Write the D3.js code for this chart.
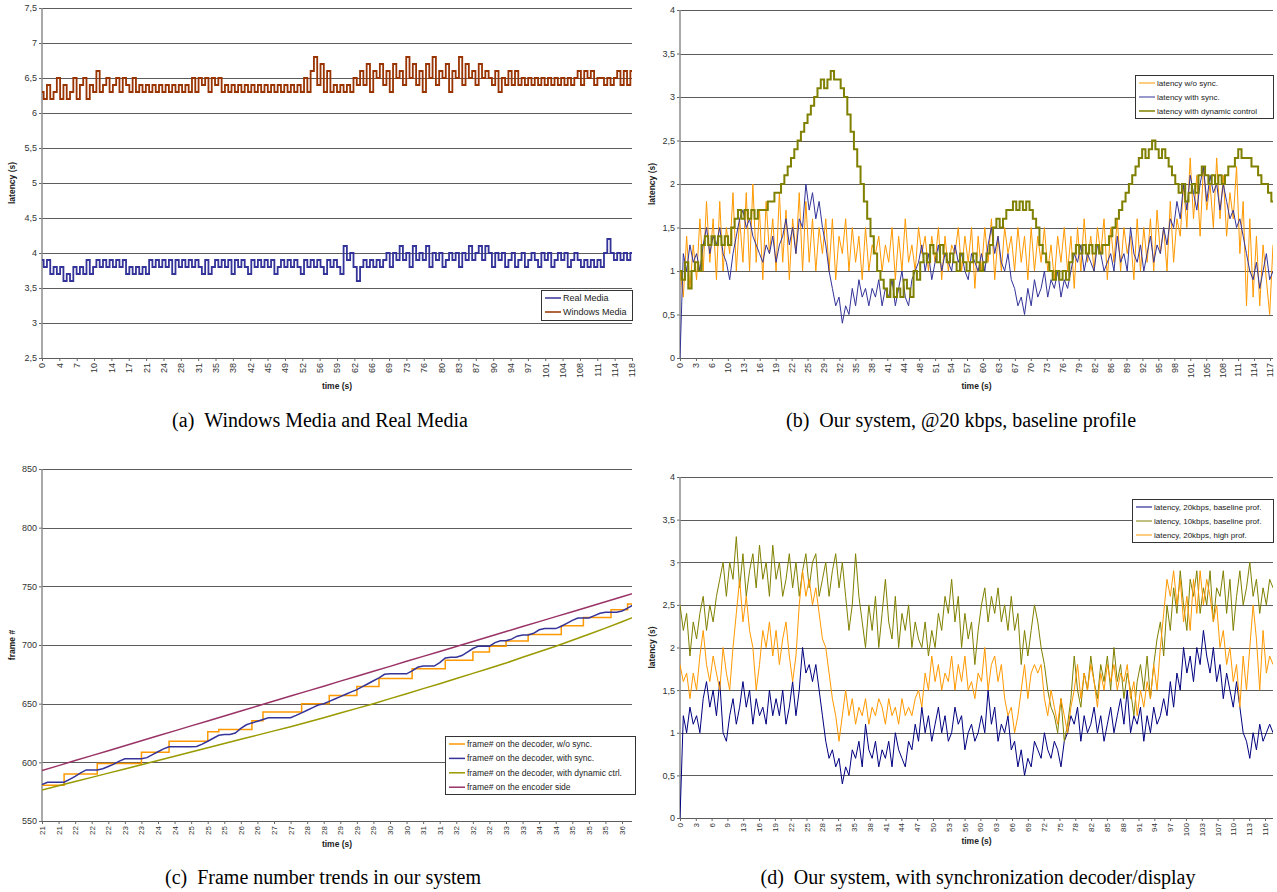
<!DOCTYPE html>
<html>
<head>
<meta charset="utf-8">
<script src="https://cdn.jsdelivr.net/npm/d3@7"></script>
<style>
  body { margin: 0; background: #fff; }
  svg { display: block; background: #fff; }
  .tick text { font-family: "Liberation Sans", Arial, sans-serif; fill: #333; }
  .tick line { stroke: #666; }
</style>
</head>
<body>
<div class="vis"></div>
<script>
// ---------- (a) Windows Media and Real Media ----------
var timeLabelsA = [0,4,7,10,14,17,21,24,28,31,35,38,42,45,49,52,56,59,62,66,69,73,76,80,83,87,90,94,97,101,104,108,111,114,118];
var yTicksA = [2.5,3,3.5,4,4.5,5,5.5,6,6.5,7,7.5];
var realMedia = [3.9,3.8,3.9, 3.7,3.8,3.7,3.8,3.6,3.7,3.6,3.8,3.7,3.8,3.7,3.9,3.7,3.8,
  3.9,3.8,3.9,3.8,3.9,3.8,3.9,3.8,3.9, 3.7,3.8,3.7,3.8,3.7,3.8,3.7,3.9,
  3.8,3.9,3.8,3.9,3.8,3.9,3.7,3.9,3.8,3.9,3.8,3.9,3.8,3.9,3.8, 3.7,3.9,3.7,3.8,3.9,
  3.8,3.9,3.8,3.9,3.7,3.9,3.8,3.9,3.8,3.7,3.9,3.8,3.9,3.8,3.9,3.8,3.9,3.7,3.8,3.9,
  3.8,3.9,3.8,3.9,3.8,3.7,3.9,3.8,3.9,3.8,3.9,3.8,3.7,3.9,3.8,3.9,3.8,3.7,
  4.1,3.9,4.0, 3.8,3.6,3.8,3.9,3.8,3.9,3.8,3.9,3.8,
  3.9,4.0,3.8,4.0,3.9,4.1,3.9,4.0,3.8,4.1,3.9,4.0,3.9,4.1,3.8,4.0,3.9,4.0,3.8,3.9,
  4.0,3.9,4.0,3.8,4.0,3.9,4.1,3.9,4.0,4.1,3.9,4.1,4.0,3.8,4.0,3.9,4.0,
  3.8,3.9,4.0,3.8,3.9,4.0,3.8,3.9,4.0,3.9,3.8,4.0,3.9,4.0,3.8,3.9,4.0,3.9,4.0,3.8,3.9,4.0,3.9,
  3.8,3.9,3.8,3.9,3.8,3.9,3.8,4.0, 4.2,4.0, 3.9,4.0,3.9,4.0,3.9,4.0];
var windowsMedia = [6.3,6.2,6.4,6.2,6.3,6.5,6.2,6.4,6.2,6.3,6.5,6.2,6.4,6.5,6.2,6.4,6.3,
  6.6,6.3,
  6.4,6.5,6.3,6.4,6.5,6.3,6.5,6.4,6.3,6.5,6.3,6.4,6.3,6.4,6.3,
  6.4,6.3,6.4,6.3,6.4,6.3,6.4,6.3,6.4,6.3,6.4,6.3,
  6.5,6.3,6.5,6.4,6.5,6.3,6.5,6.4,6.5,6.3,
  6.4,6.3,6.4,6.3,6.4,6.3,6.4,6.3,6.4,6.3,6.4,6.3,6.4,6.3,6.4,6.3,6.4,6.3,6.4,6.3,6.4,6.3,6.4,6.3,6.5,
  6.3,6.6,6.8,6.4,6.7,6.3,6.6,
  6.3,6.4,6.3,6.4,6.3,6.4,6.3,
  6.5,6.4,6.6,6.4,6.7,6.3,6.6,6.5,6.7,6.4,6.6,6.3,6.7,6.5,6.6,6.4,6.8,6.5,6.7,6.4,
  6.6,6.3,6.7,6.5,6.8,6.4,6.6,6.5,6.7,6.3,6.6,6.5,6.8,6.4,6.7,6.5,6.6,6.4,6.7,6.5,6.6,
  6.5,6.4,6.6,6.3,6.5,6.4,6.6,6.4,6.6,6.4,
  6.5,6.4,6.5,6.4,6.5,6.4,6.5,6.4,6.5,6.4,6.5,6.4,6.5,6.4,6.5,6.4,6.5,
  6.6,6.4,6.6,6.5,6.6,6.4,6.5,
  6.5,6.4,6.5,6.4,6.5,
  6.6,6.4,6.6,6.4,6.6];

// ---------- (b) Our system, @20 kbps, baseline profile ----------
var timeLabelsB = [0,3,6,10,13,16,19,22,25,29,32,35,38,41,44,48,51,54,57,60,63,67,70,73,76,79,82,86,89,92,95,98,101,105,108,111,114,117];
var yTicksB = [0,0.5,1,1.5,2,2.5,3,3.5,4];
var latNoSync = [1.0,0.7,1.4,0.8,1.3,0.9,1.6,
  1.0,1.8,1.1,1.6,0.9,1.8,1.0,1.5,1.2,1.9,1.0,1.6,1.1,1.9,
  1.0,2.0,1.1,1.7,0.9,1.8,1.2,1.6,1.0,1.9,1.1,1.7,0.9,1.6,1.2,1.9,1.0,1.8,1.1,1.6,
  1.0,1.5,1.2,1.6,1.0,1.6,0.9,1.4,1.2,1.6,1.0,1.5,1.1,1.4,0.9,1.5,1.0,1.3,1.2,1.4,
  1.0,1.3,1.1,1.5,0.9,1.4,1.0,1.6,1.1,1.3,1.0,1.5,1.2,1.4,1.0,1.4,1.1,1.5,0.9,1.4,
  1.0,1.3,1.2,1.5,1.0,1.4,1.1,1.5,0.8,1.4,
  1.0,1.5,1.1,1.6,0.9,1.4,1.0,1.5,1.2,1.4,1.0,1.5,1.1,1.4,0.9,1.5,1.0,1.4,1.1,1.5,
  1.0,1.3,0.9,1.4,1.1,1.5,1.0,1.4,0.8,1.5,
  1.0,1.6,1.1,1.4,1.0,1.5,1.2,1.6,0.9,1.5,1.1,1.6,1.0,1.5,1.2,1.4,0.9,1.6,1.0,1.5,
  1.1,1.6,1.0,1.7,1.2,1.5,1.0,1.8,1.1,1.6,
  1.4,2.0,1.5,2.3,1.6,2.1,1.4,2.2,1.7,2.0,1.5,2.3,1.6,2.1,1.4,1.9,1.6,2.2,1.2,1.8,
  0.6,1.6,0.7,1.4,0.6,1.3,0.9,0.5,1.3];
var latSync = [0, 1.2,1.0,1.3,1.1,1.2,1.0,
  1.3,1.5,1.2,1.4,1.3,1.5,1.2,1.1,0.9,1.2,
  1.4,1.6,1.7,1.5,1.6,1.4,1.3, 1.2,1.1,1.3,1.2,1.4,1.1,1.3,
  1.4,1.6,1.3,1.5,1.2,1.6,1.5, 2.0,1.7,1.9,1.6,1.8, 1.5,1.3,
  1.0,0.8,0.6,0.7,0.4, 0.6,0.5,0.8,0.6,0.9,0.7,0.8,0.6,
  0.8,0.7,0.9,0.6,0.8,0.7,0.9,0.6,0.8,1.0,0.7,0.6,0.9,
  1.0,1.1,1.3,1.0,1.2,0.9,1.1,1.3,1.0,1.2,1.1,1.0,1.3,1.1,1.2,1.0,0.9,1.2,1.1,1.0,
  1.2,1.0,1.3,1.5,1.2,1.4,1.1,1.0,1.2,0.9,
  0.8,0.6,0.7,0.5,0.8,0.6,
  0.9,0.7,0.8,1.0,0.7,0.9,0.8,1.0,0.7,0.9,0.8,
  1.0,1.2,1.1,1.3,1.0,1.2,1.1,1.0,1.3,1.2,1.0,1.1,1.2,
  1.0,1.4,1.1,1.2,1.0,1.5,1.2,1.1,1.3,1.0,1.2,1.4,1.1,1.3,1.2,1.5,
  1.3,1.6,1.5,1.8,1.6,2.0,1.7,2.1,1.9,
  1.7,2.0,2.2,1.8,2.1,1.9,2.0,1.7,2.0,1.8,
  1.6,1.7,1.5,1.6,1.4,
  1.2,1.0,0.9,1.1,0.8,1.0,1.2,0.9,1.0];
var latDynamic = [1.0,0.9,1.1,0.8,1.0,1.1,1.0,
  1.3,1.4,1.3,1.4,1.3,1.4,1.3,1.4,1.3,
  1.5,1.6,1.7,1.6,1.7,1.6,1.7,1.6,1.7,1.7,1.7,1.8,1.8,1.9,
  1.9,2.0,2.1,2.2,2.3,2.4,2.5,2.6,2.7,2.8,2.9,3.0,3.1,
  3.2,3.1,3.2,3.3,3.2,3.2,3.1,3.0,
  2.8,2.6,2.4,2.2,2.0,1.8,1.6,1.4,1.2,1.0,
  0.9,0.8,0.7,0.9,0.7,0.8,0.7,0.9,0.8,0.7,
  1.0,0.9,1.1,1.2,1.1,1.3,1.2,1.1,1.3,1.2,1.1,1.2,1.1,1.0,1.2,1.1,1.0,1.1,1.2,1.1,1.0,1.1,1.2,
  1.3,1.5,1.6,1.5,1.6,1.7,1.7,1.8,1.7,1.8,1.7,1.8,1.7,
  1.6,1.5,1.3,1.2,1.1,1.0,0.9,1.0,0.9,1.0,0.9,
  1.1,1.2,1.3,1.2,1.3,1.2,1.3,1.2,1.3,1.2,1.3,
  1.3,1.4,1.5,1.6,1.7,1.8,1.9,2.0,2.1,2.2,2.3,2.4,2.3,2.4,2.5,2.4,2.3,2.4,2.3,2.2,2.1,2.0,
  1.9,2.0,1.8,1.9,2.0,1.9,2.1,2.2,2.1,2.0,2.1,2.0,2.1,2.0,2.1,2.2,2.2,2.3,2.4,2.3,
  2.3,2.3,2.2,2.2,2.1,2.0,2.0,1.9,1.8];

// ---------- (c) Frame number trends ----------
var timeLabelsC = [21,21,22,22,22,23,23,24,24,25,25,25,26,26,27,27,28,28,29,29,29,30,30,31,31,32,32,32,33,33,34,34,35,35,35,36];
var yTicksC = [550,600,650,700,750,800,850];
// sampled every third of a label interval
var frameNoSync = [580.5,580.5,580.5,580.5, 590,590,590,590,590,590,
  599,599,599,599,599,599,599,599, 608.5,608.5,608.5,608.5,608.5,
  618,618,618,618,618,618,618, 626,626, 628,628,628,628,628,628,
  635.5,635.5, 643,643,643,643,643,643,643, 650,650,650,650,650,
  657,657,657,657,657, 664.7,664.7,664.7,664.7,
  671.4,671.4,671.4,671.4,671.4,671.4, 679.7,679.7,679.7,679.7,679.7,679.7,
  687,687,687,687,687, 694,694,694, 699,699,699, 703.4,703.4,703.4,703.4,
  709,709,709,709,709,709, 716.5,716.5,716.5,716.5,
  723.5,723.5,723.5,723.5,723.5, 730,730,730, 735,735];
var frameSync = [581,583,583,583,583,585.5,588,591,593.5,593.5,
  593.5,594.5,596.5,598.5,601,603,603,603,603,604,
  606.5,609,611.5,613.3,613.3,613.3,613.3,613.3,613.5,615.5,
  618,620.5,623,623.7,623.7,625,629,632,633.6,635,
  636.5,637.9,637.9,637.9,637.9,638,640,642.2,644.4,646.6,
  648.8,650,652,654,656,658,660,662,664.5,667,
  669.5,672,675,675.4,675.4,675.4,675.4,678,681,682,
  682,682,685,689,689.5,689.5,691,694,697,699,
  699,699,702,703.6,703.6,705,707.5,708.5,708.5,710,
  713,714,714,714,716,718.5,721,723,723,723,
  725,727,728,728,728,729,731.5,734];
// sampled once per label interval
var frameDynamic = [576.5,580,583.6,587.2,590.8,594.4,598,601.6,605.2,608.8,612.4,616,619.6,623.2,626.8,630.4,
  634.2,638,642,646,650,654.3,658.5,662.8,667,671.4,675.8,680.2,684.6,689.5,694.2,699,704,709.2,714.4,719.8,725.5];
var frameEncoder = [593,597.2,601.5,605.7,609.9,614.2,618.4,622.6,626.8,631.1,635.3,639.5,643.8,648,652.2,656.5,
  660.7,664.9,669.2,673.4,677.6,681.8,686.1,690.3,694.5,698.8,703,707.2,711.5,715.7,719.9,724.2,728.4,732.6,736.8,741.1,745.3];

// ---------- (d) Our system, with synchronization decoder/display ----------
var timeLabelsD = [0,3,6,9,13,16,19,22,25,28,31,35,38,41,44,47,50,53,56,60,63,66,69,72,75,78,82,85,88,91,94,97,100,103,107,110,113,116];
var yTicksD = [0,0.5,1,1.5,2,2.5,3,3.5,4];
var lat20Base = [0, 1.2,1.0,1.3,1.1,1.2,1.0,
  1.4,1.6,1.3,1.5,1.2,1.6, 1.0,0.9,1.2,1.4,1.1,1.3,
  1.6,1.3,1.5,1.1,1.4,1.2,1.3,1.1,1.5,1.2,
  1.4,1.2,1.5,1.1,1.3,1.6,1.2,1.5,
  2.0,1.7,1.8,1.6,1.8, 1.5,1.2,0.9,
  0.7,0.8,0.6,0.7,0.4, 0.6,0.5,0.8,0.7,0.9,0.6,1.1,
  0.8,0.7,0.9,0.6,0.8,0.7,0.9,0.6,1.0,0.8,0.7,0.6,0.9,0.8,
  1.1,0.9,1.3,1.0,1.2,0.9,1.1,1.3,1.0,1.2,0.9,1.0,1.3,1.1,1.2,0.8,1.0,1.1,0.9,1.0,
  1.2,1.0,1.5,1.1,1.3,0.9,1.1,1.0,1.2,0.8,
  0.9,0.6,0.8,0.5,0.7,0.6,0.9,
  0.8,0.7,1.0,0.8,0.7,0.9,0.8,0.6,0.9,
  1.0,1.2,1.1,1.3,0.9,1.2,1.0,1.1,1.3,1.0,1.2,0.9,1.1,1.3,1.0,1.2,1.4,1.1,1.5,1.0,
  1.2,1.1,1.3,0.9,1.2,1.0,1.3,1.1,1.2,
  1.4,1.2,1.6,1.3,1.7,1.5,2.0,
  1.7,1.9,1.6,2.0,1.8,2.2,1.9,1.7,2.0,
  1.6,1.8,1.4,1.7,1.5,1.3,1.6,
  1.3,1.0,0.9,0.7,
  1.0,0.8,1.1,0.9,1.0,1.1,1.0];
var lat10Base = [2.5,2.2,2.4,1.9,2.3,2.1,
  2.4,2.6,2.2,2.5,2.3,
  2.6,2.8,3.0,2.6,3.0,2.8,3.3,
  2.7,3.1,2.6,2.9,3.1,2.7,3.2,2.8,3.0,2.6,3.2,2.8,3.0,
  2.6,2.8,3.1,2.7,3.0,2.6,2.9,3.1,2.7,3.0,3.1,2.6,2.8,3.0,2.6,2.9,3.1,2.7,3.0,
  2.6,2.2,2.5,3.1,2.6,
  2.3,2.0,2.5,2.2,2.6,2.0,2.4,2.8,2.3,
  2.1,2.6,2.0,2.4,2.2,2.5,2.0,2.3,2.1,
  2.0,2.3,1.9,2.2,2.0,
  2.4,2.2,2.6,2.4,2.8,2.3,2.6,
  2.0,2.4,2.1,2.3,1.8,2.2,
  2.5,2.7,2.3,2.6,2.4,2.7,2.3,2.5,2.2,
  2.6,2.2,2.4,1.8,2.2,
  1.9,2.2,2.5,
  2.3,2.0,1.8,1.5,1.3,
  1.2,1.0,1.4,0.9,
  1.1,1.4,1.9,1.5,
  1.3,1.7,1.5,1.9,1.6,1.4,1.8,1.6,1.9,1.5,
  2.0,1.6,1.8,1.4,1.7,1.5,1.2,1.6,1.8,1.5,1.9,1.4,
  1.8,2.1,2.3,1.9,2.5,2.2,
  2.7,2.4,2.9,2.5,2.2,2.8,2.6,
  2.9,2.4,2.7,2.5,2.9,2.3,2.7,2.6,
  2.9,2.4,2.8,2.2,2.6,2.9,2.5,2.7,
  3.0,2.6,2.8,2.4,2.7,2.5,2.8,2.7];
var lat20High = [1.8,1.6,1.7,1.4,1.7,1.5,
  1.9,2.2, 1.8,1.6,1.9,1.7, 1.5,2.0,1.7,1.5,
  2.0,2.4,2.8,2.3,2.6,2.2, 2.0,1.5,1.8,2.2,
  2.0,2.3,1.9,2.2,1.8,2.1,2.3,1.9, 1.6,1.9,
  2.5,2.9,2.6,2.8,2.5,2.7, 2.4,2.1,2.0,
  1.7,1.4,1.2,0.9, 1.2,1.5,
  1.2,1.4,1.1,1.3,1.2,1.4,1.1,1.3,1.2,1.4,1.3,1.1,1.4,1.2,1.3,1.1,1.4,1.2,1.3,1.2,1.4,
  1.5,1.3,1.7,1.5,1.9,1.6,
  1.8,1.5,1.7,1.6,1.9,1.5,1.8,1.6,1.9,
  1.5,1.6,1.4,1.7,
  1.6,2.0,1.5,1.8,1.9,1.6,1.8,
  1.4,1.2,1.3,1.0,1.2,
  1.5,1.8,1.4,1.7, 1.8,1.7,1.8,
  1.4,1.2,1.5,1.3,1.1,1.4,1.2,1.0,1.3,
  1.5,1.8,1.4,1.7,1.5,1.8,1.6,1.3,
  1.7,1.5,1.8,1.6,1.8,1.5,1.7,1.6,1.8,
  1.4,1.6,1.2,1.5,1.3,1.6,
  1.4,1.8,1.5,2.0,2.4,2.8,
  2.6,2.9,2.5,2.8,
  2.3,2.6,2.2,2.8,2.4,
  2.9,2.5,2.8,2.6,2.3,
  2.5,2.0,2.2,1.8,2.0,1.6,
  1.8,1.3,1.9,1.5,
  2.0,2.5,2.1,
  1.5,2.2,1.7,1.9,1.8];

// ---------- layout ----------
var svg = d3.select(".vis").append("svg")
  .attr("width", 1277)
  .attr("height", 892);

var panels = [
  {
    left: 42, right: 632, top: 8, bottom: 358, lastLabelX: 632, labelFont: 9,
    yDomain: [2.5, 7.5], yTicks: yTicksA, xLabels: timeLabelsA,
    yTitle: "latency (s)", yTitleX: 12, xTitleY: 389,
    caption: "(a)\u2002Windows Media and Real Media", capX: 320, capY: 427,
    legend: { x: 541, y: 290, w: 91, h: 30, font: 9, row: 14 },
    series: [
      { name: "Real Media", values: realMedia, curve: d3.curveStep, color: "#333399", width: 1.8 },
      { name: "Windows Media", values: windowsMedia, curve: d3.curveStep, color: "#993300", width: 1.8 }
    ]
  },
  {
    left: 680, right: 1273, top: 10, bottom: 358, lastLabelX: 1270, labelFont: 9,
    yDomain: [0, 4], yTicks: yTicksB, xLabels: timeLabelsB,
    yTitle: "latency (s)", yTitleX: 652, xTitleY: 389,
    caption: "(b)\u2002Our system, @20 kbps, baseline profile", capX: 961, capY: 427,
    legend: { x: 1135, y: 75, w: 138, h: 43, font: 8, row: 14 },
    series: [
      { name: "latency w/o sync.", values: latNoSync, color: "#ff9900", width: 1 },
      { name: "latency with sync.", values: latSync, color: "#333399", width: 1 },
      { name: "latency with dynamic control", values: latDynamic, curve: d3.curveStep, color: "#808000", width: 2 }
    ]
  },
  {
    left: 42, right: 632, top: 469, bottom: 821, lastLabelX: 622, labelFont: 8, xMax: 35.6,
    yDomain: [550, 850], yTicks: yTicksC, xLabels: timeLabelsC,
    yTitle: "frame #", yTitleX: 12, xTitleY: 847,
    caption: "(c)\u2002Frame number trends in our system", capX: 323, capY: 884,
    legend: { x: 445, y: 736, w: 190, h: 58, font: 8.5, row: 14.4 },
    series: [
      { name: "frame# on the decoder, w/o sync.", values: frameNoSync, step: 1 / 3, curve: d3.curveStepAfter, color: "#ff9900", width: 1.5 },
      { name: "frame# on the decoder, with sync.", values: frameSync, step: 1 / 3, color: "#333399", width: 1.5 },
      { name: "frame# on the decoder, with dynamic ctrl.", values: frameDynamic, step: 1, color: "#999900", width: 1.5 },
      { name: "frame# on the encoder side", values: frameEncoder, step: 1, color: "#993366", width: 1.5 }
    ]
  },
  {
    left: 680, right: 1273, top: 477, bottom: 818, lastLabelX: 1265, labelFont: 8,
    yDomain: [0, 4], yTicks: yTicksD, xLabels: timeLabelsD,
    yTitle: "latency (s)", yTitleX: 652, xTitleY: 844,
    caption: "(d)\u2002Our system, with synchronization decoder/display", capX: 978, capY: 884,
    legend: { x: 1132, y: 499, w: 141, h: 43, font: 8, row: 14 },
    series: [
      { name: "latency, 20kbps, baseline prof.", values: lat20Base, color: "#000080", width: 1 },
      { name: "latency, 10kbps, baseline prof.", values: lat10Base, color: "#808000", width: 1 },
      { name: "latency, 20kbps, high prof.", values: lat20High, color: "#ff9900", width: 1 }
    ]
  }
];

function drawPanel(p, n) {
  var g = svg.append("g");

  var y = d3.scaleLinear().domain(p.yDomain).range([p.bottom, p.top]);
  var xl = d3.scalePoint()
    .domain(d3.range(p.xLabels.length))
    .range([p.left, p.lastLabelX]);

  // horizontal grid
  g.append("g")
    .selectAll("line")
    .data(p.yTicks)
    .join("line")
    .attr("x1", p.left)
    .attr("x2", p.right)
    .attr("y1", d => Math.round(y(d)) + 0.5)
    .attr("y2", d => Math.round(y(d)) + 0.5)
    .attr("stroke", "#5c5c5c")
    .attr("stroke-width", 1);

  // y axis
  var yAxis = g.append("g")
    .attr("transform", `translate(${p.left},0)`)
    .call(d3.axisLeft(y).tickValues(p.yTicks).tickSize(3).tickPadding(2)
      .tickFormat(d => String(d).replace(".", ",")));
  yAxis.select(".domain").remove();
  yAxis.selectAll("text").style("font-size", "9px");

  g.append("line")
    .attr("x1", p.left).attr("x2", p.left)
    .attr("y1", p.top).attr("y2", p.bottom)
    .attr("stroke", "#8c8c8c")
    .attr("stroke-width", 1.5);

  // x axis, rotated category labels
  var xAxis = g.append("g")
    .attr("transform", `translate(0,${p.bottom})`)
    .call(d3.axisBottom(xl).tickSize(3).tickFormat(i => p.xLabels[i]));
  xAxis.select(".domain").remove();
  xAxis.selectAll("text")
    .attr("transform", "rotate(-90)")
    .attr("x", -5)
    .attr("y", 0)
    .attr("dy", "0.32em")
    .style("text-anchor", "end")
    .style("font-size", p.labelFont + "px");

  // series
  g.append("clipPath")
    .attr("id", "clip" + n)
    .append("rect")
    .attr("x", p.left)
    .attr("y", p.top - 2)
    .attr("width", p.right - p.left)
    .attr("height", p.bottom - p.top + 3);

  var plot = g.append("g").attr("clip-path", `url(#clip${n})`);
  p.series.forEach(function (s) {
    var step = s.step || 1;
    var sx = p.xMax != null
      ? d3.scaleLinear().domain([0, p.xMax]).range([p.left, p.right])
      : d3.scaleLinear().domain([0, s.values.length - 1]).range([p.left, p.right]);
    var line = d3.line()
      .x((d, i) => sx(i * step))
      .y(d => y(d))
      .curve(s.curve || d3.curveLinear);
    plot.append("path")
      .datum(s.values)
      .attr("d", line)
      .attr("fill", "none")
      .attr("stroke", s.color)
      .attr("stroke-width", s.width)
      .attr("stroke-linejoin", "miter");
  });

  // legend
  var L = p.legend;
  var lg = g.append("g");
  lg.append("rect")
    .attr("x", L.x + 0.5).attr("y", L.y + 0.5)
    .attr("width", L.w).attr("height", L.h)
    .attr("fill", "#fff")
    .attr("stroke", "#333")
    .attr("stroke-width", 1);
  var rows = lg.selectAll("g.row")
    .data(p.series)
    .join("g")
    .attr("class", "row")
    .attr("transform", (d, i) => `translate(${L.x},${L.y + 8 + i * L.row})`);
  rows.append("line")
    .attr("x1", 4).attr("x2", 20)
    .attr("stroke", d => d.color)
    .attr("stroke-width", d => Math.min(d.width, 1.5));
  rows.append("text")
    .attr("x", 22)
    .attr("dy", "0.35em")
    .attr("font-family", "Liberation Sans, Arial, sans-serif")
    .attr("font-size", L.font)
    .attr("fill", "#222")
    .text(d => d.name);

  // axis titles
  g.append("text")
    .attr("transform", `translate(${p.yTitleX},${(p.top + p.bottom) / 2}) rotate(-90)`)
    .attr("text-anchor", "middle")
    .attr("dy", "0.35em")
    .attr("font-family", "Liberation Sans, Arial, sans-serif")
    .attr("font-size", 8.5)
    .attr("font-weight", "bold")
    .attr("fill", "#222")
    .text(p.yTitle);

  g.append("text")
    .attr("x", (p.left + p.right) / 2)
    .attr("y", p.xTitleY)
    .attr("text-anchor", "middle")
    .attr("font-family", "Liberation Sans, Arial, sans-serif")
    .attr("font-size", 8.5)
    .attr("font-weight", "bold")
    .attr("fill", "#222")
    .text("time (s)");

  // caption
  g.append("text")
    .attr("x", p.capX)
    .attr("y", p.capY)
    .attr("text-anchor", "middle")
    .attr("font-family", "Liberation Serif, Times New Roman, serif")
    .attr("font-size", 20)
    .attr("fill", "#000")
    .text(p.caption);
}

panels.forEach(drawPanel);
</script>
</body>
</html>
